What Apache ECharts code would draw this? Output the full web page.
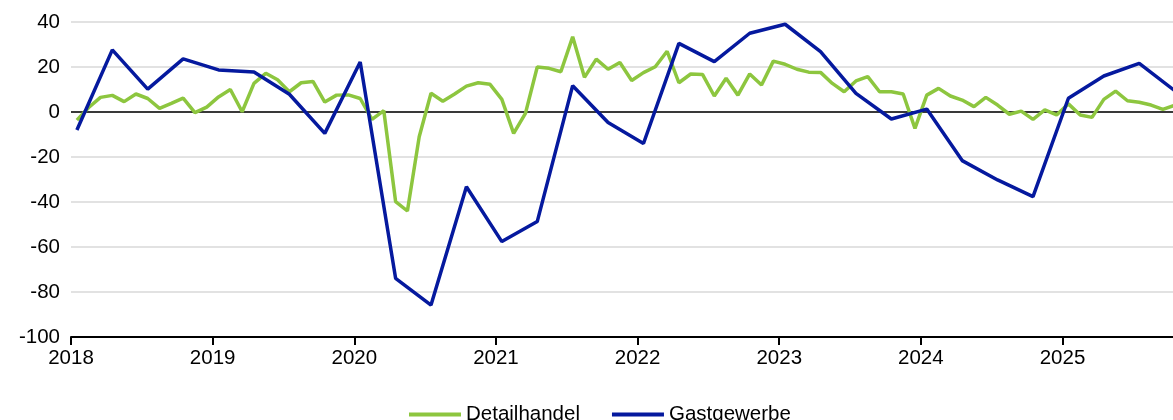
<!DOCTYPE html>
<html>
<head>
<meta charset="utf-8">
<script src="https://cdn.jsdelivr.net/npm/echarts@6/dist/echarts.min.js"></script>
<style>
  html, body { margin: 0; padding: 0; background: #fff; }
  #chart { width: 1173px; height: 420px; }
</style>
</head>
<body>
<div id="chart"></div>
<script>
// Monatswerte ab Januar 2018
const startYear = 2018
const detailhandel = [
  -3.6, 2, 6.5, 7.4, 4.6, 8, 6, 1.6, 3.8, 6.2, -0.3, 2.2,
  6.7, 10, 0.1, 12.7, 17.2, 14.3, 9, 13, 13.6, 4.4, 7.5, 7.6,
  6, -3.3, 0.6, -39.8, -44, -11, 8.3, 4.8, 8, 11.5, 13, 12.3,
  5.6, -9.5, -0.6, 20, 19.4, 17.9, 33.4, 15.4, 23.5, 19, 22, 14,
  17.5, 20.1, 27, 13, 16.9, 16.7, 7.1, 15, 7.5, 16.9, 12, 22.6,
  21.2, 19, 17.7, 17.6, 12.7, 9, 13.8, 15.7, 9, 9, 8, -7.3,
  7.5, 10.5, 7.1, 5.3, 2.4, 6.5, 3.1, -1, 0.4, -3.3, 0.9, -1.3,
  3.6, -1.3, -2.4, 5.6, 9.3, 5, 4.3, 3.1, 1.2, 3
]
// Quartalswerte ab Q1 2018
const gastgewerbe = [
  -8, 27.6, 10.2, 23.6,
  18.7, 17.8, 7.9, -9.5,
  22.2, -73.9, -85.8, -33.2,
  -57.6, -48.7, 11.7, -4.7,
  -14, 30.5, 22.4, 35,
  39, 26.8, 8.3, -3.1,
  1.3, -21.6, -30.2, -37.6,
  6.1, 16, 21.6, 9.5
]
const yMin = -100, yMax = 40, yStep = 20

// Punkte jeweils in der Monatsmitte
const monthX = i => startYear + (i + 0.5) / 12
const greenData = detailhandel.map((v, i) => [monthX(i), v])
const blueData = gastgewerbe.map((v, q) => [monthX(q * 3), v])

const font = 'Arial, "Liberation Sans", sans-serif'
let myChart = echarts.init(document.getElementById('chart'))
let option = {
  animation: false,
  grid: { left: 71, right: 0, top: 22, bottom: 83 },
  legend: {
    top: 399,
    left: 404,
    icon: 'rect',
    itemWidth: 52,
    itemHeight: 4,
    itemGap: 32,
    textStyle: { fontFamily: font, fontSize: 20.5, color: '#000' },
    data: ['Detailhandel', 'Gastgewerbe']
  },
  xAxis: {
    type: 'value',
    min: startYear,
    max: 2025.78,
    interval: 1,
    axisLine: { onZero: false, lineStyle: { color: '#000', width: 2 } },
    axisTick: { show: true, length: 8, lineStyle: { color: '#000', width: 2 } },
    axisLabel: {
      margin: 11,
      fontFamily: font,
      fontSize: 20.5,
      color: '#000',
      showMaxLabel: false,
      formatter: v => Number.isInteger(v) ? String(v) : ''
    },
    splitLine: { show: false }
  },
  yAxis: {
    type: 'value',
    min: yMin,
    max: yMax,
    interval: yStep,
    axisLine: { show: false },
    axisTick: { show: false },
    axisLabel: { margin: 11, fontFamily: font, fontSize: 20.5, color: '#000' },
    splitLine: { lineStyle: { color: '#d9d9d9', width: 1.5 } }
  },
  series: [
    {
      name: 'Detailhandel',
      type: 'line',
      data: greenData,
      symbol: 'none',
      color: '#8dc63f',
      lineStyle: { width: 3.5, color: '#8dc63f' },
      z: 3,
      markLine: {
        silent: true,
        symbol: 'none',
        label: { show: false },
        lineStyle: { color: '#000', width: 1.5, type: 'solid' },
        data: [{ yAxis: 0 }],
        z: 1
      }
    },
    {
      name: 'Gastgewerbe',
      type: 'line',
      data: blueData,
      symbol: 'none',
      color: '#05199e',
      lineStyle: { width: 3.5, color: '#05199e' },
      z: 4
    }
  ]
}
myChart.setOption(option)
</script>
</body>
</html>
